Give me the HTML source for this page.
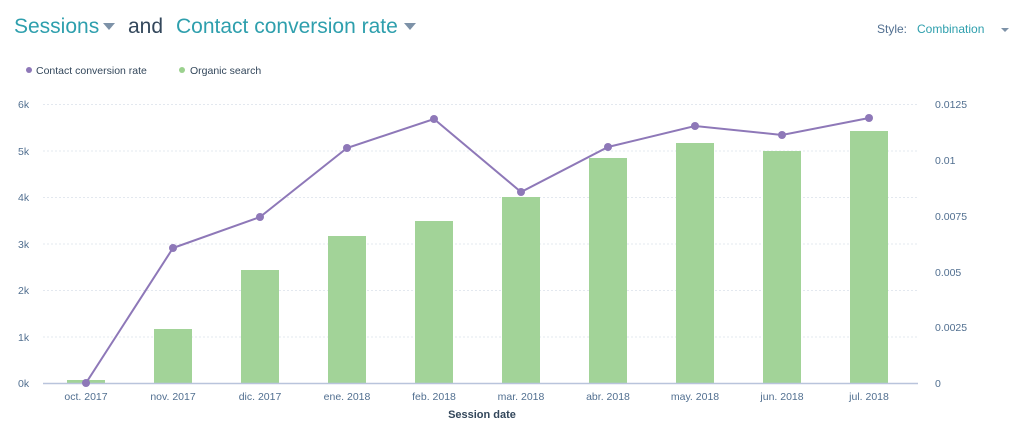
<!DOCTYPE html><html><head><style>
body{margin:0;background:#fff;font-family:"Liberation Sans",sans-serif;}
</style></head><body>
<svg width="1024" height="436" xmlns="http://www.w3.org/2000/svg" font-family="Liberation Sans, sans-serif">
<text x="14" y="33" font-size="21" fill="#2e9fad">Sessions</text>
<path d="M103 23h12l-6 7z" fill="#7d92a8"/>
<text x="128" y="33" font-size="21" fill="#33475b">and</text>
<text x="176" y="33" font-size="21" fill="#2e9fad">Contact conversion rate</text>
<path d="M404 23h12l-6 7z" fill="#7d92a8"/>
<text x="877" y="33" font-size="12" fill="#516f90">Style:</text>
<text x="917" y="33" font-size="12" fill="#2e9fad">Combination</text>
<path d="M1001 28h8l-4 4z" fill="#7d92a8"/>
<circle cx="29" cy="70" r="3" fill="#8e78b8"/>
<text x="36" y="74" font-size="10.5" fill="#33475b">Contact conversion rate</text>
<circle cx="182" cy="70" r="3" fill="#9bd18e"/>
<text x="190" y="74" font-size="10.5" fill="#33475b">Organic search</text>
<g stroke="#e3e8ef" stroke-dasharray="2,2" stroke-width="1">
<line x1="43" x2="918" y1="104.5" y2="104.5"/><line x1="43" x2="918" y1="151" y2="151"/><line x1="43" x2="918" y1="197.5" y2="197.5"/><line x1="43" x2="918" y1="244" y2="244"/><line x1="43" x2="918" y1="290.5" y2="290.5"/><line x1="43" x2="918" y1="337" y2="337"/>
</g>
<g font-size="10.5" fill="#516f90">
<text x="18" y="108">6k</text><text x="18" y="155">5k</text><text x="18" y="201">4k</text><text x="18" y="248">3k</text><text x="18" y="294">2k</text><text x="18" y="341">1k</text><text x="18" y="387">0k</text>
<text x="935" y="108">0.0125</text><text x="935" y="164">0.01</text><text x="935" y="220">0.0075</text><text x="935" y="276">0.005</text><text x="935" y="331">0.0025</text><text x="935" y="387">0</text>
</g>
<g fill="#a2d398">
<rect x="67" y="380" width="38" height="3"/>
<rect x="154" y="329" width="38" height="54"/>
<rect x="241" y="270" width="38" height="113"/>
<rect x="328" y="236" width="38" height="147"/>
<rect x="415" y="221" width="38" height="162"/>
<rect x="502" y="197" width="38" height="186"/>
<rect x="589" y="158" width="38" height="225"/>
<rect x="676" y="143" width="38" height="240"/>
<rect x="763" y="151" width="38" height="232"/>
<rect x="850" y="131" width="38" height="252"/>
</g>
<line x1="43" x2="918" y1="383.5" y2="383.5" stroke="#b9c4dc" stroke-width="1.5"/>
<polyline fill="none" stroke="#8e78b8" stroke-width="2" points="86,383 173,248 260,217 347,148 434,119 521,192 608,147 695,126 782,135 869,118"/>
<g fill="#8e78b8"><circle cx="86" cy="383" r="4"/><circle cx="173" cy="248" r="4"/><circle cx="260" cy="217" r="4"/><circle cx="347" cy="148" r="4"/><circle cx="434" cy="119" r="4"/><circle cx="521" cy="192" r="4"/><circle cx="608" cy="147" r="4"/><circle cx="695" cy="126" r="4"/><circle cx="782" cy="135" r="4"/><circle cx="869" cy="118" r="4"/></g>
<g font-size="10.5" fill="#516f90" text-anchor="middle">
<text x="86" y="400">oct. 2017</text><text x="173" y="400">nov. 2017</text><text x="260" y="400">dic. 2017</text><text x="347" y="400">ene. 2018</text><text x="434" y="400">feb. 2018</text><text x="521" y="400">mar. 2018</text><text x="608" y="400">abr. 2018</text><text x="695" y="400">may. 2018</text><text x="782" y="400">jun. 2018</text><text x="869" y="400">jul. 2018</text>
</g>
<text x="482" y="418" font-size="11" font-weight="bold" fill="#33475b" text-anchor="middle">Session date</text>
</svg>
</body></html>
